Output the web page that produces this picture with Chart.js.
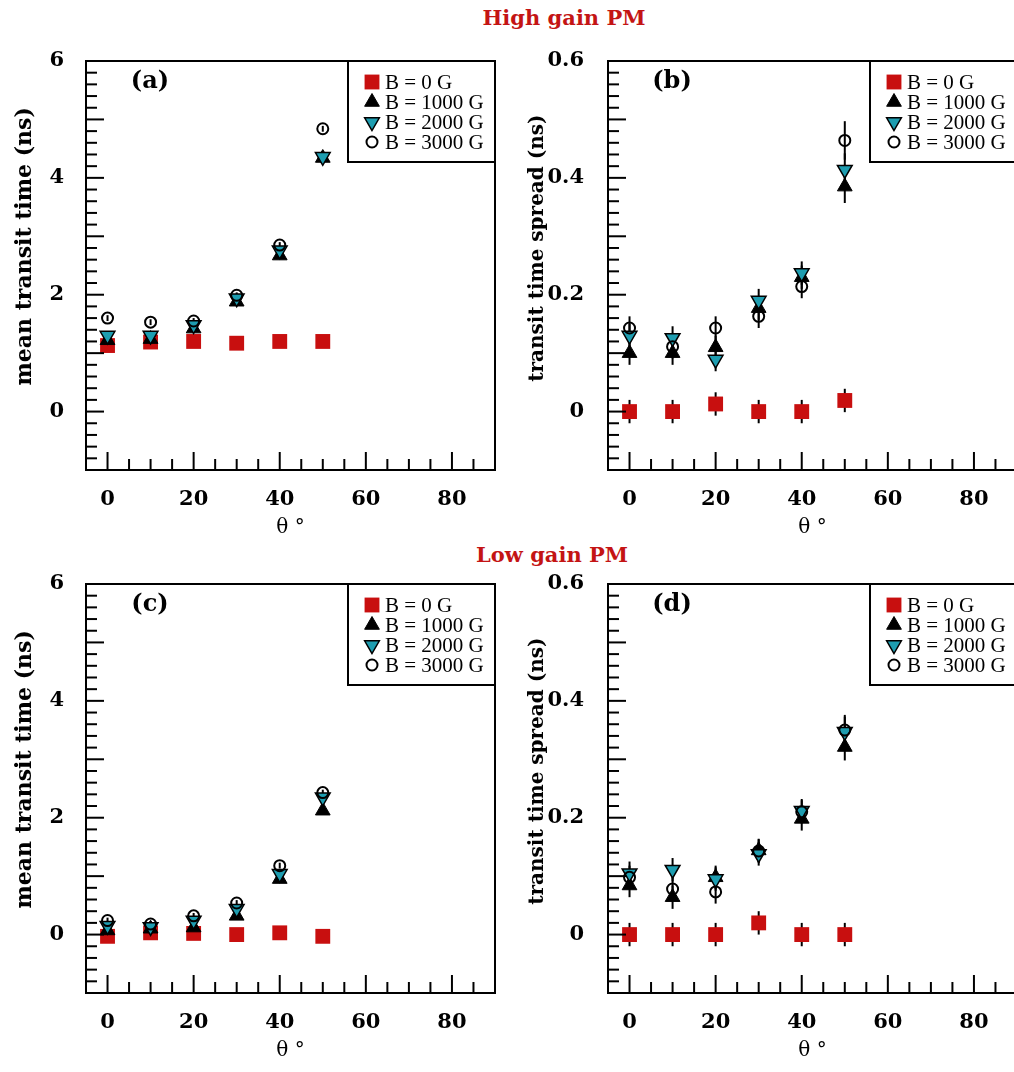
<!DOCTYPE html>
<html>
<head>
<meta charset="utf-8">
<script src="https://cdn.jsdelivr.net/npm/chart.js@4.4.1/dist/chart.umd.min.js"></script>
<style>
html, body { margin: 0; padding: 0; overflow: hidden; background: #fff; }
body { width: 1014px; height: 1072px; position: relative; }
.panel { position: absolute; }
.head { position: absolute; width: 220px; text-align: center; font: bold 21px "DejaVu Serif"; color: #c41414; line-height: 24px; }
</style>
</head>
<body>
<div class="head" style="left:454px; top:6px">High gain PM</div>
<div class="head" style="left:442px; top:543px">Low gain PM</div>
<canvas id="pa" class="panel" width="510" height="520" style="left:0px; top:30px"></canvas>
<canvas id="pb" class="panel" width="530" height="520" style="left:500px; top:30px"></canvas>
<canvas id="pc" class="panel" width="510" height="520" style="left:0px; top:553px"></canvas>
<canvas id="pd" class="panel" width="530" height="520" style="left:500px; top:553px"></canvas>
<script>
// angle of incidence (deg)
const angles = [0, 10, 20, 30, 40, 50]
const fieldLabels = ["B = 0 G", "B = 1000 G", "B = 2000 G", "B = 3000 G"]
const xTicks = [0, 20, 40, 60, 80]
const meanTicks = [0, 2, 4, 6]
const spreadTicks = [0, 0.2, 0.4, 0.6]

// high gain PM - mean transit time (ns)
const hiMean0 = [1.13, 1.19, 1.2, 1.17, 1.2, 1.2]
const hiMean1000 = [1.22, 1.24, 1.42, 1.88, 2.67, 4.34]
const hiMean2000 = [1.3, 1.3, 1.48, 1.94, 2.76, 4.36]
const hiMean3000 = [1.6, 1.53, 1.55, 1.99, 2.85, 4.84]
const hiMeanErr = [0.05, 0.05, 0.05, 0.05, 0.05, 0.05]

// high gain PM - transit time spread (ns)
const hiSp0 = [0, 0, 0.013, 0, 0, 0.019]
const hiSp1000 = [0.1, 0.1, 0.11, 0.177, 0.23, 0.385]
const hiSp2000 = [0.13, 0.126, 0.089, 0.19, 0.237, 0.414]
const hiSp3000 = [0.143, 0.111, 0.143, 0.163, 0.214, 0.464]
const hiSpErr0 = [0.02, 0.02, 0.02, 0.02, 0.02, 0.02]
const hiSpErr1000 = [0.02, 0.02, 0.02, 0.02, 0.02, 0.028]
const hiSpErr2000 = [0.02, 0.02, 0.02, 0.02, 0.02, 0.028]
const hiSpErr3000 = [0.02, 0.02, 0.02, 0.02, 0.02, 0.033]

// low gain PM - mean transit time (ns)
const loMean0 = [-0.03, 0.03, 0.02, 0.0, 0.03, -0.03]
const loMean1000 = [0.07, 0.1, 0.12, 0.32, 0.95, 2.12]
const loMean2000 = [0.15, 0.13, 0.24, 0.44, 1.04, 2.35]
const loMean3000 = [0.24, 0.18, 0.32, 0.54, 1.18, 2.43]
const loMeanErr = [0.05, 0.05, 0.05, 0.05, 0.05, 0.05]

// low gain PM - transit time spread (ns)
const loSp0 = [0, 0, 0, 0.02, 0, 0]
const loSp1000 = [0.084, 0.064, 0.098, 0.144, 0.198, 0.321]
const loSp2000 = [0.105, 0.111, 0.095, 0.138, 0.212, 0.347]
const loSp3000 = [0.098, 0.078, 0.073, 0.143, 0.21, 0.35]
const loSpErr0 = [0.02, 0.02, 0.02, 0.02, 0.02, 0.02]
const loSpErr1000 = [0.02, 0.02, 0.02, 0.02, 0.02, 0.023]
const loSpErr2000 = [0.02, 0.02, 0.02, 0.02, 0.02, 0.026]
const loSpErr3000 = [0.02, 0.02, 0.02, 0.02, 0.02, 0.026]

const RED = "#c80f0f"
const TEAL = "#1e9db0"

const markerStyles = [
    { pointStyle: "rect", radius: 10.5, rotation: 0, backgroundColor: RED, borderColor: RED, borderWidth: 0 },
    { pointStyle: "triangle", radius: 8.5, rotation: 0, backgroundColor: "#000", borderColor: "#000", borderWidth: 1 },
    { pointStyle: "triangle", radius: 8.5, rotation: 180, backgroundColor: TEAL, borderColor: "#000", borderWidth: 1.5 },
    { pointStyle: "circle", radius: 5.5, rotation: 0, backgroundColor: "rgba(0,0,0,0)", borderColor: "#000", borderWidth: 2 },
]

const boldSerif = size => ({ family: "DejaVu Serif", size, weight: "bold" })

// error bars, inward ticks, frame, panel tag and boxed legend
const decorPlugin = {
    id: "decor",
    beforeDatasetsDraw(chart) {
        const ctx = chart.ctx
        const ys = chart.scales.y
        ctx.save()
        ctx.strokeStyle = "#000"
        ctx.lineWidth = 2
        chart.data.datasets.forEach((ds, i) => {
            const meta = chart.getDatasetMeta(i)
            meta.data.forEach((pt, j) => {
                const v = ds.data[j].y
                const e = ds.errors[j]
                ctx.beginPath()
                ctx.moveTo(pt.x, ys.getPixelForValue(v - e))
                ctx.lineTo(pt.x, ys.getPixelForValue(v + e))
                ctx.stroke()
            })
        })
        ctx.restore()
    },
    afterDatasetsDraw(chart, args, opts) {
        const ctx = chart.ctx
        const { left, right, top, bottom } = chart.chartArea
        const xs = chart.scales.x
        const ys = chart.scales.y
        ctx.save()
        ctx.strokeStyle = "#000"
        ctx.lineWidth = 2

        // x ticks every 5, long every 20
        for (let i = 1; i < 19; i++) {
            const v = -5 + 5 * i
            const px = xs.getPixelForValue(v)
            const len = v % 20 === 0 ? 18 : 11
            ctx.beginPath()
            ctx.moveTo(px, bottom)
            ctx.lineTo(px, bottom - len)
            ctx.stroke()
        }
        // y ticks
        const n = Math.round((ys.max - ys.min) / opts.minor)
        for (let i = 1; i < n; i++) {
            const v = ys.min + i * opts.minor
            const r = v / opts.major
            const len = Math.abs(r - Math.round(r)) < 1e-6 ? 18 : 11
            const py = ys.getPixelForValue(v)
            ctx.beginPath()
            ctx.moveTo(left, py)
            ctx.lineTo(left + len, py)
            ctx.stroke()
        }
        ctx.strokeRect(left, top, right - left, bottom - top)

        // panel tag
        ctx.fillStyle = "#000"
        ctx.font = 'bold 24px "DejaVu Serif"'
        ctx.textAlign = "center"
        ctx.textBaseline = "middle"
        ctx.fillText(opts.tag, left + 64, top + 21)

        // legend box
        const bw = 147, bh = 101
        const bx = right - bw
        ctx.fillStyle = "#fff"
        ctx.fillRect(bx, top, bw, bh)
        ctx.strokeRect(bx, top, bw, bh)
        chart.data.datasets.forEach((ds, i) => {
            const y = top + 21 + i * 20
            const st = markerStyles[i]
            ctx.fillStyle = st.backgroundColor
            ctx.strokeStyle = st.borderColor
            ctx.lineWidth = st.borderWidth
            Chart.helpers.drawPoint(ctx, st, bx + 24, y)
            ctx.fillStyle = "#000"
            ctx.font = '21px "Liberation Serif"'
            ctx.textAlign = "left"
            ctx.textBaseline = "middle"
            ctx.fillText(ds.label, bx + 37, y + 1)
        })
        ctx.restore()
    }
}

function makePanel(id, cfg) {
    const datasets = cfg.series.map((vals, i) => ({
        label: fieldLabels[i],
        data: angles.map((a, j) => ({ x: a, y: vals[j] })),
        errors: cfg.errors[i],
        order: 3 - i,
        pointStyle: markerStyles[i].pointStyle,
        pointRadius: markerStyles[i].radius,
        pointRotation: markerStyles[i].rotation,
        pointBackgroundColor: markerStyles[i].backgroundColor,
        pointBorderColor: markerStyles[i].borderColor,
        pointBorderWidth: markerStyles[i].borderWidth,
        showLine: false,
    }))

    new Chart(document.getElementById(id), {
        type: "scatter",
        data: { datasets },
        plugins: [decorPlugin],
        options: {
            responsive: false,
            animation: false,
            devicePixelRatio: 1,
            layout: { padding: { top: 31, right: cfg.padRight, left: 0, bottom: 0 } },
            plugins: {
                legend: { display: false },
                tooltip: { enabled: false },
                decor: { tag: cfg.tag, minor: cfg.minor, major: cfg.major },
            },
            scales: {
                x: {
                    type: "linear",
                    min: -5,
                    max: 90,
                    grid: { display: false },
                    border: { display: false },
                    afterBuildTicks: s => { s.ticks = xTicks.map(v => ({ value: v })) },
                    afterFit: s => { s.height = 80 },
                    ticks: { font: boldSerif(21), color: "#000", padding: 9, maxRotation: 0, callback: v => String(v) },
                    title: {
                        display: true,
                        text: "θ °",
                        color: "#000",
                        font: { family: "DejaVu Serif", size: 20 },
                        padding: { top: 0, bottom: 10 },
                    },
                },
                y: {
                    type: "linear",
                    min: cfg.yMin,
                    max: cfg.yMax,
                    grid: { display: false },
                    border: { display: false },
                    afterBuildTicks: s => { s.ticks = cfg.yTicks.map(v => ({ value: v })) },
                    afterFit: s => { s.width = cfg.yWidth },
                    ticks: { font: boldSerif(21), color: "#000", padding: cfg.yPad, callback: v => String(v) },
                    title: {
                        display: true,
                        // leading spaces lift the rotated title a little above the axis centre
                        text: "     " + cfg.yTitle,
                        color: "#000",
                        font: boldSerif(cfg.yTitleSize),
                        padding: { top: cfg.yTitlePad, bottom: 0 },
                    },
                },
            },
        },
    })
}

const meanPanel = { yMin: -1, yMax: 6, yTicks: meanTicks, minor: 0.2, major: 1, yWidth: 86, yPad: 14,
    padRight: 15, yTitle: "mean transit time (ns)", yTitleSize: 22, yTitlePad: 12 }
const spreadPanel = { yMin: -0.1, yMax: 0.6, yTicks: spreadTicks, minor: 0.02, major: 0.1, yWidth: 108, yPad: 16,
    padRight: 13, yTitle: "transit time spread (ns)", yTitleSize: 20, yTitlePad: 26 }

makePanel("pa", { ...meanPanel, tag: "(a)",
    series: [hiMean0, hiMean1000, hiMean2000, hiMean3000],
    errors: [hiMeanErr, hiMeanErr, hiMeanErr, hiMeanErr] })
makePanel("pb", { ...spreadPanel, tag: "(b)",
    series: [hiSp0, hiSp1000, hiSp2000, hiSp3000],
    errors: [hiSpErr0, hiSpErr1000, hiSpErr2000, hiSpErr3000] })
makePanel("pc", { ...meanPanel, tag: "(c)",
    series: [loMean0, loMean1000, loMean2000, loMean3000],
    errors: [loMeanErr, loMeanErr, loMeanErr, loMeanErr] })
makePanel("pd", { ...spreadPanel, tag: "(d)",
    series: [loSp0, loSp1000, loSp2000, loSp3000],
    errors: [loSpErr0, loSpErr1000, loSpErr2000, loSpErr3000] })
</script>
</body>
</html>
